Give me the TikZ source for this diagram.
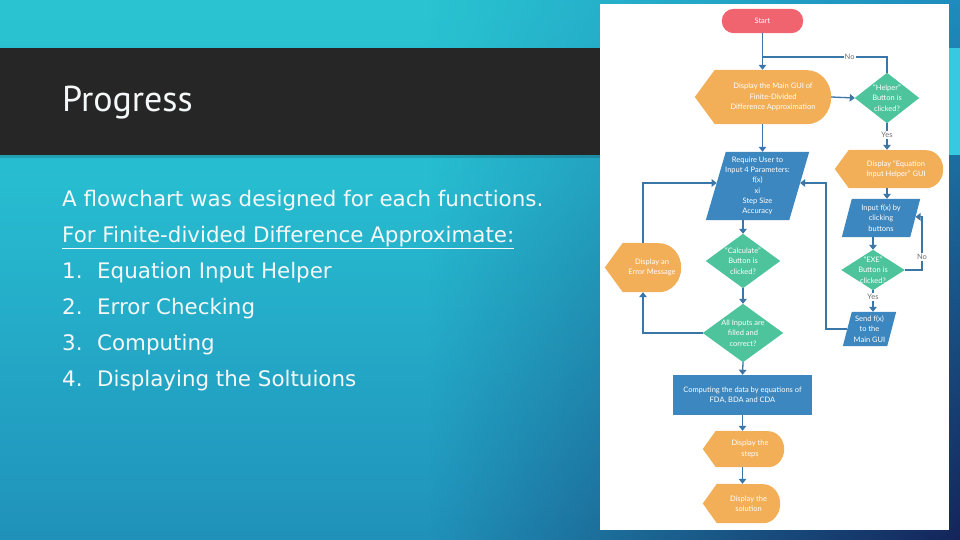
\documentclass[tikz,border=0pt]{standalone}
\usepackage{fontspec}
\setmainfont{PT Sans}
\newfontfamily\fcfont{Lato}
\newfontfamily\bodyfont{DejaVu Sans}
\usetikzlibrary{arrows.meta,calc,fadings}
\definecolor{bgTop}{RGB}{45,206,211}
\definecolor{bgMid}{RGB}{39,188,208}
\definecolor{bgLow}{RGB}{33,152,190}
\definecolor{bgBot}{RGB}{27,112,160}
\definecolor{ovTop}{RGB}{30,140,190}
\definecolor{ovBot}{RGB}{20,36,90}
\definecolor{barcol}{HTML}{262626}
\definecolor{stripcol}{HTML}{38C9E2}
\definecolor{orng}{HTML}{F2AF58}
\definecolor{grn}{HTML}{4DC49C}
\definecolor{blu}{HTML}{3C87BF}
\definecolor{startred}{HTML}{F06470}
\definecolor{linecol}{HTML}{3A76A8}
\definecolor{lblgray}{HTML}{707070}
\definecolor{txtwhite}{HTML}{F4F8F8}
\pgfdeclareverticalshading{bgsh}{100bp}{color(0bp)=(bgBot); color(30bp)=(bgLow); color(58bp)=(bgMid); color(100bp)=(bgTop)}
\tikzfading[name=faderight, left color=transparent!100, right color=transparent!0]
\pgfdeclarelayer{bglayer}
\pgfdeclarelayer{shapelayer}
\pgfsetlayers{bglayer,shapelayer,main}
\newcommand\dispsh[4]{\fill[orng] (#1.north west) -- ([xshift=-#2pt]#1.west) -- (#1.south west) -- ([xshift=-#3pt]#1.south east) arc[start angle=-90,end angle=90,x radius=#3pt,y radius=#4pt] -- cycle;}
\newcommand\parsh[2]{\fill[blu] ([xshift=#2pt]#1.north west) -- (#1.north east) -- ([xshift=-#2pt]#1.south east) -- (#1.south west) -- cycle;}
\newcommand\diash[1]{\fill[grn] (#1.north) -- (#1.east) -- (#1.south) -- (#1.west) -- cycle;}
\tikzset{
  fcnode/.style={draw=none, inner sep=0pt, align=center, text=white,
    font=\fcfont\fontsize{7.5}{10.3}\selectfont},
  flow/.style={draw=linecol, line width=1.3pt, -{Triangle[width=7.5pt,length=5pt]}},
  plainline/.style={draw=linecol, line width=1.3pt},
  lbl/.style={fill=white, inner sep=1.2pt, text=lblgray, font=\fcfont\fontsize{7.5}{8}\selectfont},
  slidetxt/.style={anchor=base west, text=txtwhite, font=\bodyfont\fontsize{21.4}{24}\selectfont, inner sep=0pt},
}
\begin{document}
\begin{tikzpicture}[x=1pt,y=-1pt]
\useasboundingbox (0,0) rectangle (960,540);
\begin{pgfonlayer}{bglayer}
  \shade[shading=bgsh] (0,0) rectangle (960,540);
  \shade[top color=ovTop, bottom color=ovBot, path fading=faderight] (430,0) rectangle (960,540);
  \fill[barcol] (0,48) rectangle (600,155);
  \fill[black, opacity=0.15] (0,155) rectangle (600,158);
  \fill[stripcol] (949,48) rectangle (960,155);
  \fill[white] (600,4) rectangle (949,530);
\end{pgfonlayer}

% slide text
\node[anchor=base west, text=txtwhite, inner sep=0pt, font=\fontsize{36}{40}\selectfont] (title) at (62,112) {Progress};
\node[slidetxt] (t1) at (62,206) {A flowchart was designed for each functions.};
\node[slidetxt] (t2) at (62,242) {\underline{For Finite-divided Difference Approximate:}};
\node[slidetxt] (n1) at (62,278) {1.};
\node[slidetxt] (i1) at (97,278) {Equation Input Helper};
\node[slidetxt] (n2) at (62,314) {2.};
\node[slidetxt] (i2) at (97,314) {Error Checking};
\node[slidetxt] (n3) at (62,350) {3.};
\node[slidetxt] (i3) at (97,350) {Computing};
\node[slidetxt] (n4) at (62,386) {4.};
\node[slidetxt] (i4) at (97,386) {Displaying the Soltuions};

% flowchart nodes
\node[fcnode, minimum width=81pt, minimum height=24pt] (start) at (762.5,21) {Start};
\node[fcnode, minimum width=116pt, minimum height=54pt] (main) at (773,97) {Display the Main GUI of\\Finite-Divided\\Difference Approximation};
\node[fcnode, minimum width=64pt, minimum height=50pt] (helper) at (887,98) {“Helper”\\Button is\\clicked?};
\node[fcnode, minimum width=94pt, minimum height=38pt] (eqhelp) at (896,169) {Display “Equation\\Input Helper” GUI};
\node[fcnode, minimum width=78pt, minimum height=38pt] (inputfx) at (881,218) {Input f(x) by\\clicking\\buttons};
\node[fcnode, minimum width=63pt, minimum height=40pt] (exe) at (873,270) {“EXE”\\Button is\\clicked?};
\node[fcnode, minimum width=53pt, minimum height=34pt] (send) at (869.5,329) {Send f(x)\\to the\\Main GUI};
\node[fcnode, minimum width=103pt, minimum height=68pt] (require) at (757.5,186) {Require User to\\Input 4 Parameters:\\f(x)\\xi\\Step Size\\Accuracy};
\node[fcnode, minimum width=58pt, minimum height=49pt] (error) at (652,267.5) {Display an\\Error Message};
\node[fcnode, minimum width=74pt, minimum height=54pt] (calc) at (743,261) {“Calculate”\\Button is\\clicked?};
\node[fcnode, minimum width=80pt, minimum height=58pt] (allin) at (743,333) {All Inputs are\\filled and\\correct?};
\node[fcnode, minimum width=139pt, minimum height=40pt] (comp) at (742.5,395) {Computing the data by equations of\\FDA, BDA and CDA};
\node[fcnode, minimum width=68pt, minimum height=36pt] (steps) at (750,449) {Display the\\steps};
\node[fcnode, minimum width=63pt, minimum height=39pt] (sol) at (748.5,503.5) {Display the\\solution};

\begin{pgfonlayer}{shapelayer}
  \fill[startred, rounded corners=12pt] (start.north west) rectangle (start.south east);
  \dispsh{main}{20}{24}{27}
  \dispsh{eqhelp}{14}{17}{19}
  \dispsh{error}{18}{22}{24.5}
  \dispsh{steps}{13}{16}{18}
  \dispsh{sol}{14}{17}{19.5}
  \parsh{require}{20}
  \parsh{inputfx}{10}
  \parsh{send}{9}
  \diash{helper}
  \diash{exe}
  \diash{calc}
  \diash{allin}
  \fill[blu] (comp.north west) rectangle (comp.south east);
\end{pgfonlayer}

% helper coordinates
\coordinate (join) at (762.5,57);
\coordinate (exeNo) at (922,270);
\coordinate (rcol) at (826,0);
\coordinate (fxR) at ($(inputfx.north east)!0.47!([xshift=-10pt]inputfx.south east)$);
\coordinate (reqR) at ($(require.north east)!0.456!([xshift=-20pt]require.south east)$);
\coordinate (reqL) at ($([xshift=20pt]require.north west)!0.456!(require.south west)$);
\coordinate (sendL) at ([xshift=4.5pt]send.west);

% connectors
\draw[flow] (start.south) -- (start.south |- main.north);
\draw[plainline] (helper.north) |- node[lbl, pos=0.65] {No} (join);
\draw[flow] (main.east) -- (helper.west);
\draw[flow] (helper.south) -- node[lbl, pos=0.45] {Yes} (helper.south |- eqhelp.north);
\draw[flow] (helper.south |- eqhelp.south) -- (helper.south |- inputfx.north);
\draw[flow] (exe.north |- inputfx.south) -- (exe.north);
\draw[flow] (exe.east) -- (exeNo) -- node[lbl, pos=0.25] {No} (exeNo |- fxR) -- (fxR);
\draw[flow] (exe.south) -- node[lbl, pos=0.3] {Yes} (exe.south |- send.north);
\draw[flow] (sendL) -| (rcol |- reqR) -- (reqR);
\draw[flow] (start.south |- main.south) -- (start.south |- require.north);
\draw[flow] (calc.north |- require.south) -- (calc.north);
\draw[flow] (calc.south) -- (allin.north);
\draw[flow] (allin.south) -- (comp.north);
\draw[flow] (comp.south) -- (comp.south |- steps.north);
\draw[flow] (comp.south |- steps.south) -- (comp.south |- sol.north);
\draw[flow] ([xshift=-9pt]error.north) |- (reqL);
\draw[flow] (allin.west) -| ([xshift=-9pt]error.south);
\end{tikzpicture}
\end{document}
